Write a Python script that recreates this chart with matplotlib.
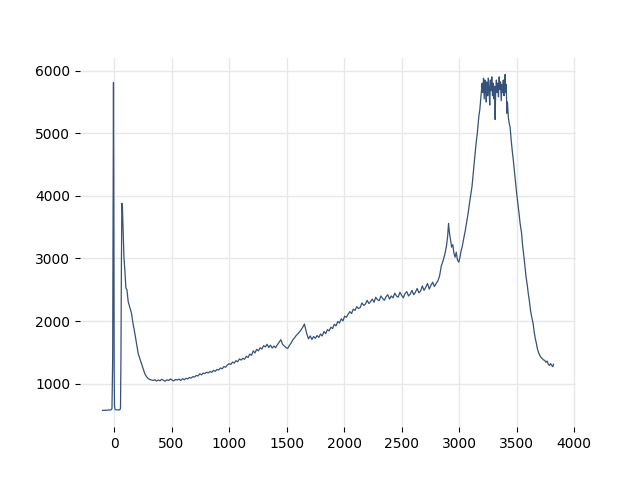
import numpy as np
import matplotlib
matplotlib.use("Agg")
import matplotlib.pyplot as plt

# baseline and the two sharp peaks at the start
wn_start = [-100, -80, -60, -40, -25, -18, -12, -8, -5, -2, 1, 4, 8, 15, 25, 35, 45, 52, 56, 60,
            64, 68, 72, 78, 86, 95, 103, 112, 123, 135, 152, 165, 181, 195, 210, 225, 239, 253,
            267, 282, 296, 310, 325]
ab_start = [572, 574, 575, 578, 582, 600, 1400, 4200, 5810, 3900, 1200, 640, 590, 582, 580, 579,
            581, 586, 610, 1400, 2900, 3880, 3860, 3480, 3024, 2780, 2530, 2500, 2310, 2230,
            2120, 1960, 1800, 1650, 1480, 1395, 1320, 1235, 1160, 1112, 1082, 1066, 1058]

# slow rise through the middle of the spectrum
wn_mid = [340, 355, 370, 385, 400, 415, 430, 445, 460, 475, 490, 505, 520, 535, 550, 565, 580,
          595, 610, 625, 640, 655, 670, 685, 700, 715, 730, 745, 760, 775, 790, 805, 820, 835,
          850, 865, 880, 895, 910, 925, 940, 955, 970, 985, 1000, 1015, 1030, 1045, 1060, 1075,
          1090, 1105, 1120, 1135, 1150, 1165, 1180, 1195, 1210, 1225, 1240, 1255, 1270, 1285,
          1300, 1315, 1330, 1345, 1360, 1375, 1390, 1405, 1420, 1435, 1450, 1465, 1480, 1495,
          1510, 1525, 1540, 1555, 1570, 1585, 1600, 1615, 1630, 1645, 1655, 1665, 1675, 1690,
          1705, 1720, 1735, 1750, 1765, 1780, 1795, 1810, 1825, 1840, 1855, 1870, 1885, 1900,
          1915, 1930, 1945, 1960, 1975, 1990, 2005, 2020, 2035, 2050, 2065, 2080, 2095, 2110,
          2125, 2140, 2155, 2170, 2185, 2200, 2215, 2230, 2245, 2260, 2275, 2290, 2305, 2320,
          2335, 2350, 2365, 2380, 2395, 2410, 2425, 2440, 2455, 2470, 2485, 2500, 2515, 2530,
          2545, 2560, 2575, 2590, 2605, 2620, 2635, 2650, 2665, 2680, 2695, 2710, 2725, 2740,
          2755, 2770, 2785, 2800, 2815, 2830]
ab_mid = [1050, 1062, 1041, 1058, 1046, 1070, 1052, 1038, 1061, 1049, 1075, 1055, 1044, 1068,
          1057, 1072, 1050, 1078, 1062, 1085, 1074, 1098, 1088, 1112, 1104, 1131, 1122, 1158,
          1140, 1168, 1160, 1182, 1170, 1195, 1180, 1212, 1198, 1226, 1218, 1250, 1236, 1272,
          1262, 1298, 1318, 1306, 1344, 1328, 1366, 1350, 1395, 1376, 1404, 1390, 1436, 1418,
          1472, 1452, 1522, 1490, 1548, 1522, 1574, 1552, 1606, 1586, 1628, 1578, 1614, 1568,
          1600, 1574, 1622, 1660, 1702, 1628, 1602, 1574, 1562, 1612, 1650, 1702, 1734, 1772,
          1800, 1832, 1870, 1916, 1952, 1878, 1800, 1715, 1762, 1706, 1752, 1724, 1768, 1738,
          1792, 1762, 1832, 1798, 1862, 1842, 1902, 1878, 1948, 1922, 1992, 1968, 2036, 2002,
          2078, 2060, 2110, 2150, 2120, 2190, 2170, 2230, 2200, 2215, 2290, 2250, 2270, 2330,
          2280, 2310, 2350, 2300, 2380, 2340, 2325, 2400, 2360, 2330, 2390, 2420, 2350, 2400,
          2370, 2445, 2400, 2380, 2460, 2410, 2370, 2440, 2470, 2400, 2430, 2490, 2420, 2460,
          2520, 2450, 2480, 2560, 2490, 2540, 2600, 2510, 2570, 2620, 2550, 2600, 2640, 2720]

# shoulder at ~2900 and the large broad band
wn_band = [2845, 2860, 2875, 2890, 2900, 2908, 2915, 2925, 2935, 2945, 2955, 2965, 2975, 2985,
           2997, 3007, 3017, 3027, 3040, 3052, 3065, 3078, 3090, 3100, 3112, 3122, 3130, 3140,
           3150, 3158, 3165, 3172, 3180, 3188, 3195, 3200, 3206, 3212, 3218, 3224, 3230, 3236,
           3242, 3248, 3254, 3260, 3266, 3272, 3278, 3284, 3290, 3296, 3302, 3308, 3313, 3318,
           3324, 3330, 3336, 3342, 3348, 3354, 3360, 3366, 3372, 3378, 3384, 3390, 3396, 3400,
           3405, 3410, 3414, 3420, 3428, 3436, 3443, 3452, 3460, 3471, 3480, 3490, 3500, 3508,
           3514, 3522, 3530, 3543, 3552, 3562, 3572, 3582, 3592, 3601, 3612, 3622, 3633, 3644,
           3653, 3662, 3672, 3680, 3690, 3701, 3712, 3722, 3733, 3744, 3755, 3765, 3775, 3785,
           3795, 3805, 3815, 3820]
ab_band = [2880, 2960, 3060, 3200, 3350, 3560, 3420, 3300, 3180, 3220, 3080, 3020, 3100, 2980,
           2940, 3020, 3120, 3190, 3320, 3430, 3580, 3720, 3880, 4000, 4150, 4350, 4500, 4700,
           4880, 5000, 5150, 5280, 5380, 5560, 5700, 5800, 5650, 5880, 5550, 5850, 5700, 5500,
           5820, 5600, 5880, 5720, 5450, 5850, 5680, 5900, 5600, 5800, 5550, 5750, 5220, 5700,
           5850, 5650, 5800, 5580, 5900, 5700, 5820, 5520, 5780, 5650, 5850, 5600, 5750, 5940,
           5650, 5780, 5320, 5500, 5250, 5150, 5100, 4900, 4750, 4570, 4400, 4200, 4040, 3920,
           3820, 3700, 3560, 3400, 3200, 3050, 2870, 2700, 2580, 2440, 2300, 2150, 2050, 1950,
           1820, 1720, 1640, 1560, 1500, 1450, 1420, 1400, 1380, 1370, 1340, 1360, 1310, 1290,
           1320, 1290, 1270, 1310]

wn = np.array(wn_start + wn_mid + wn_band)
ab = np.array(ab_start + ab_mid + ab_band)

fig, ax = plt.subplots(figsize=(6.4, 4.8), dpi=100)
ax.plot(wn, ab, color="#34527a", linewidth=0.9)

ax.grid(True, color="#e8e8e8", linewidth=1)
ax.set_axisbelow(True)
for s in ax.spines.values():
    s.set_visible(False)

fig.savefig("out.png")
